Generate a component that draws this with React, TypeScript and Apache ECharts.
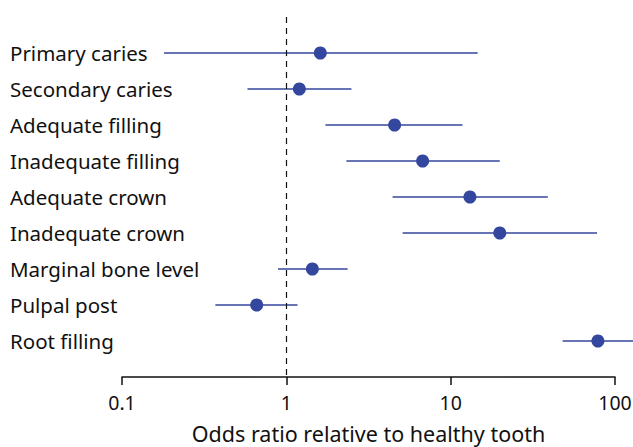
import React, { useEffect, useRef } from "react";
import * as echarts from "echarts";

const categories = [
  "Primary caries",
  "Secondary caries",
  "Adequate filling",
  "Inadequate filling",
  "Adequate crown",
  "Inadequate crown",
  "Marginal bone level",
  "Pulpal post",
  "Root filling",
];
const oddsRatio = [1.61, 1.2, 4.56, 6.75, 13.1, 19.9, 1.44, 0.66, 78.7];
const lowerCI = [0.18, 0.58, 1.73, 2.32, 4.43, 5.1, 0.89, 0.37, 48];
const upperCI = [14.6, 2.49, 11.8, 19.9, 39, 77.7, 2.36, 1.17, 130];
const minorTickValues = [
  0.2, 0.3, 0.4, 0.5, 0.6, 0.7, 0.8, 0.9,
  2, 3, 4, 5, 6, 7, 8, 9,
  20, 30, 40, 50, 60, 70, 80, 90,
];
const xTicks = [0.1, 1, 10, 100];

const FONT = "'Noto Sans', sans-serif";
const BLUE = "#34479e";
const INK = "#111";

export default function App() {
  const ref = useRef<HTMLDivElement>(null);
  useEffect(() => {
    document.body.style.margin = "0";
    if (!ref.current) return;
    const chart = echarts.init(ref.current, undefined, { renderer: "svg" });
    chart.setOption({
      animation: false,
      grid: {
        left: 122,
        right: 18,
        top: 17,
        bottom: 70,
        containLabel: false,
        outerBoundsMode: "none",
      },
      xAxis: {
        type: "log",
        logBase: 10,
        min: 0.1,
        max: 100,
        name: "Odds ratio relative to healthy tooth",
        nameLocation: "middle",
        nameGap: 45,
        nameTextStyle: { fontFamily: FONT, fontSize: 21.5, color: INK },
        axisLine: { onZero: false, lineStyle: { color: INK, width: 1.5 } },
        axisTick: { show: true, inside: false, length: 8, lineStyle: { color: INK, width: 1.5 } },
        axisLabel: {
          fontFamily: FONT,
          fontSize: 19.5,
          color: INK,
          margin: 15,
          formatter: (v: number) => {
            const m = xTicks.find((t) => Math.abs(t - v) / t < 1e-6);
            return m !== undefined ? String(m) : "";
          },
        },
        splitLine: { show: false },
      },
      yAxis: {
        type: "value",
        inverse: true,
        min: -1,
        max: 9,
        interval: 1,
        axisLine: { show: false },
        axisTick: { show: false },
        splitLine: { show: false },
        axisLabel: {
          align: "left",
          margin: 112,
          fontFamily: FONT,
          fontSize: 20.5,
          color: INK,
          padding: [0, 0, 6, 0],
          formatter: (v: number) => categories[v] ?? "",
        },
      },
      series: [
        {
          type: "custom",
          coordinateSystem: "cartesian2d",
          clip: false,
          silent: true,
          data: categories.map((_, i) => [lowerCI[i], upperCI[i], i]),
          encode: { x: [0, 1], y: 2 },
          renderItem: (params: any, api: any) => {
            const p1 = api.coord([api.value(0), api.value(2)]);
            const p2 = api.coord([api.value(1), api.value(2)]);
            return {
              type: "line",
              shape: { x1: p1[0], y1: p1[1], x2: p2[0], y2: p2[1] },
              style: { stroke: BLUE, lineWidth: 1.6 },
            };
          },
          z: 2,
        },
        {
          type: "scatter",
          data: categories.map((_, i) => [oddsRatio[i], i]),
          symbol: "circle",
          symbolSize: 13,
          itemStyle: { color: BLUE, opacity: 1 },
          clip: false,
          z: 3,
          markLine: {
            silent: true,
            symbol: "none",
            label: { show: false },
            lineStyle: { color: INK, type: [6, 5], width: 1.2 },
            data: [
              { xAxis: 1 },
              ...minorTickValues.map((v) => [
                { coord: [v, 9], lineStyle: { type: "solid", width: 1.4, color: INK } },
                { coord: [v, 9.14] },
              ]),
            ],
          },
        },
      ],
    });
    return () => chart.dispose();
  }, []);
  return <div ref={ref} style={{ width: 633, height: 447 }} />;
}
